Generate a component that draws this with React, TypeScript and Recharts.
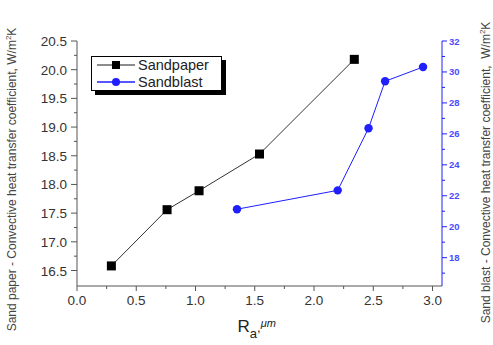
import React from 'react';
import { LineChart, Line, XAxis, YAxis, Legend } from 'recharts';

// roughness Ra (um) vs convective heat transfer coefficient (W/m2K)
const sandpaperRa = [0.29, 0.76, 1.03, 1.54, 2.34];
const sandpaperH = [16.58, 17.56, 17.89, 18.53, 20.18];
const sandblastRa = [1.35, 2.2, 2.46, 2.6, 2.92];
const sandblastH = [21.13, 22.35, 26.36, 29.4, 30.32];

const xTicks = [0, 0.25, 0.5, 0.75, 1, 1.25, 1.5, 1.75, 2, 2.25, 2.5, 2.75, 3];
const xLabelled = [0, 0.5, 1, 1.5, 2, 2.5, 3];
const leftTicks = [16.5, 16.75, 17, 17.25, 17.5, 17.75, 18, 18.25, 18.5, 18.75, 19, 19.25, 19.5, 19.75, 20, 20.25, 20.5];
const leftLabelled = [16.5, 17, 17.5, 18, 18.5, 19, 19.5, 20, 20.5];
const rightTicks = [17, 18, 19, 20, 21, 22, 23, 24, 25, 26, 27, 28, 29, 30, 31, 32];
const rightLabelled = [18, 20, 22, 24, 26, 28, 30, 32];

const sandpaperData = sandpaperRa.map((x, i) => ({ x, h: sandpaperH[i] }));
const sandblastData = sandblastRa.map((x, i) => ({ x, h: sandblastH[i] }));

const FONT = '"Liberation Sans", Arial, sans-serif';
const AXIS = '#555';
const BLUE = '#1f1fff';

const has = (list: number[], v: number) => list.some((t) => Math.abs(t - v) < 1e-6);

const BottomTick = (props: any) => {
  const { x, y, payload } = props;
  const major = has(xLabelled, payload.value);
  return (
    <g>
      <line x1={x} x2={x} y1={y} y2={y + (major ? 5 : 3)} stroke={AXIS} />
      {major && (
        <text x={x} y={y + 19} textAnchor="middle" fontSize={13.5} fill="#333" fontFamily={FONT}>
          {payload.value.toFixed(1)}
        </text>
      )}
    </g>
  );
};

const TopTick = (props: any) => {
  const { x, y, payload } = props;
  const major = has(xLabelled, payload.value);
  return <line x1={x} x2={x} y1={y} y2={y + (major ? 4 : 2)} stroke={AXIS} />;
};

const LeftTick = (props: any) => {
  const { x, y, payload } = props;
  const major = has(leftLabelled, payload.value);
  return (
    <g>
      <line x1={x} x2={x - (major ? 6 : 3)} y1={y} y2={y} stroke={AXIS} />
      {major && (
        <text x={x - 10} y={y + 5} textAnchor="end" fontSize={13.5} fill="#333" fontFamily={FONT}>
          {payload.value.toFixed(1)}
        </text>
      )}
    </g>
  );
};

const RightTick = (props: any) => {
  const { x, y, payload } = props;
  const major = has(rightLabelled, payload.value);
  return (
    <g>
      <line x1={x} x2={x + (major ? 5 : 3)} y1={y} y2={y} stroke={BLUE} />
      {major && (
        <text x={x + 7} y={y + 3.5} fontSize={9.5} fontWeight="bold" fill="#4a4aff" fontFamily={FONT}>
          {payload.value}
        </text>
      )}
    </g>
  );
};

const SquareDot = (props: any) => {
  const { cx, cy, index } = props;
  return <rect key={`sq-${index}`} x={cx - 4.5} y={cy - 4.5} width={9} height={9} fill="#000" />;
};

const CircleDot = (props: any) => {
  const { cx, cy, index } = props;
  return <circle key={`ci-${index}`} cx={cx} cy={cy} r={4.2} fill={BLUE} />;
};

const leftLabel = (props: any) => {
  const vb = props.viewBox;
  const x = vb.x + 16;
  const y = vb.y + vb.height / 2 + 16;
  return (
    <text x={x} y={y} transform={`rotate(-90 ${x} ${y})`} textAnchor="middle" fontSize={12} fill="#444" fontFamily={FONT}>
      Sand paper - Convective heat transfer coefficient, W/m
      <tspan dy={-5} fontSize={8}>2</tspan>
      <tspan dy={5}>K</tspan>
    </text>
  );
};

const rightLabel = (props: any) => {
  const vb = props.viewBox;
  const x = vb.x + 48;
  const y = vb.y + vb.height / 2 + 9;
  return (
    <text x={x} y={y} transform={`rotate(-90 ${x} ${y})`} textAnchor="middle" fontSize={12} fill="#444" fontFamily={FONT} xmlSpace="preserve">
      {'Sand blast - Convective heat transfer coefficient,  W/m'}
      <tspan dy={-5} fontSize={8}>2</tspan>
      <tspan dy={5}>K</tspan>
    </text>
  );
};

const bottomLabel = (props: any) => {
  const vb = props.viewBox;
  const x = vb.x + vb.width / 2 - 22;
  const y = vb.y + 46;
  return (
    <text x={x} y={y} fontSize={17} fill="#222" fontFamily={FONT}>
      R
      <tspan dy={6} fontSize={13}>a</tspan>
      <tspan dy={-6} fontSize={13}>,</tspan>
      <tspan dy={-5} fontSize={11} fontStyle="italic">μm</tspan>
    </text>
  );
};

const legendRows = [
  { name: 'Sandpaper', line: '#666', kind: 'square' },
  { name: 'Sandblast', line: BLUE, kind: 'circle' },
];

const renderLegend = () => (
  <div
    style={{
      width: 129,
      height: 33,
      border: '1px solid #000',
      background: '#fff',
      boxShadow: '4px 4px 0 #000',
      fontFamily: FONT,
      fontSize: 14.5,
      color: '#222',
    }}
  >
    {legendRows.map((r) => (
      <div key={r.name} style={{ display: 'flex', alignItems: 'center', height: 16.5 }}>
        <svg width={46} height={14} style={{ flex: 'none' }}>
          <line x1={5} x2={43} y1={7} y2={7} stroke={r.line} strokeWidth={1.5} />
          {r.kind === 'square' ? (
            <rect x={20} y={3} width={8} height={8} fill="#000" />
          ) : (
            <circle cx={24} cy={7} r={4} fill={BLUE} />
          )}
        </svg>
        <span style={{ lineHeight: '16px' }}>{r.name}</span>
      </div>
    ))}
  </div>
);

export default function App() {
  return (
    <div style={{ position: 'absolute', left: 0, top: 0, width: 493, height: 345, background: '#fff' }}>
      <LineChart width={493} height={345} margin={{ top: 41, right: 0, bottom: 0, left: 0 }}>
        <XAxis
          xAxisId="bottom"
          type="number"
          dataKey="x"
          domain={[0, 3.08]}
          ticks={xTicks}
          interval={0}
          allowDataOverflow
          height={59}
          tickSize={0}
          tickMargin={0}
          tickLine={false}
          tick={BottomTick}
          axisLine={{ stroke: AXIS }}
          label={bottomLabel}
        />
        <XAxis
          xAxisId="top"
          orientation="top"
          type="number"
          dataKey="x"
          domain={[0, 3.08]}
          ticks={xTicks}
          interval={0}
          allowDataOverflow
          height={0}
          tickSize={0}
          tickMargin={0}
          tickLine={false}
          tick={TopTick}
          axisLine={{ stroke: AXIS }}
        />
        <YAxis
          yAxisId="left"
          type="number"
          domain={[16.23, 20.5]}
          ticks={leftTicks}
          interval={0}
          allowDataOverflow
          width={77}
          tickSize={0}
          tickMargin={0}
          tickLine={false}
          tick={LeftTick}
          axisLine={{ stroke: AXIS }}
          label={leftLabel}
        />
        <YAxis
          yAxisId="right"
          orientation="right"
          type="number"
          domain={[16.17, 32]}
          ticks={rightTicks}
          interval={0}
          allowDataOverflow
          width={51}
          tickSize={0}
          tickMargin={0}
          tickLine={false}
          tick={RightTick}
          axisLine={{ stroke: BLUE }}
          label={rightLabel}
        />
        <Legend
          layout="vertical"
          align="center"
          verticalAlign="middle"
          content={renderLegend}
          wrapperStyle={{ left: 91, top: 56, width: 131, height: 35 }}
        />
        <Line
          data={sandpaperData}
          xAxisId="bottom"
          yAxisId="left"
          dataKey="h"
          name="Sandpaper"
          type="linear"
          stroke="#333"
          strokeWidth={1}
          dot={SquareDot}
          activeDot={false}
          isAnimationActive={false}
        />
        <Line
          data={sandblastData}
          xAxisId="bottom"
          yAxisId="right"
          dataKey="h"
          name="Sandblast"
          type="linear"
          stroke={BLUE}
          strokeWidth={1}
          dot={CircleDot}
          activeDot={false}
          isAnimationActive={false}
        />
      </LineChart>
    </div>
  );
}
